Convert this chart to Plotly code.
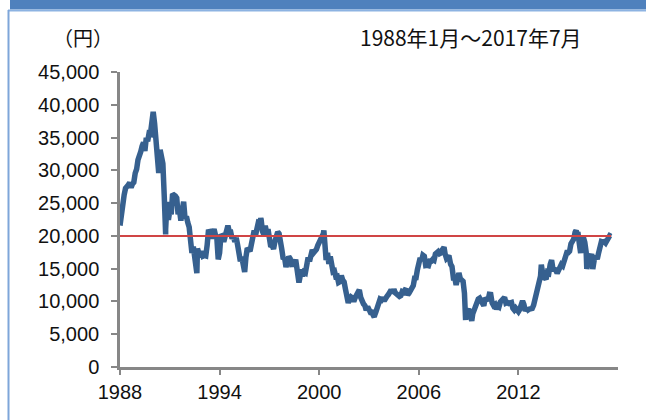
import plotly.graph_objects as go

# ---- data (Nikkei 225, month-end closes, 1988/1 - 2017/7) ----
start_value = 21575
monthly_close = [
    # 1988
    23622, 24384, 26260, 27256, 27417, 27769, 28101, 27366, 27924, 28183, 29579, 30159,
    # 1989
    31581, 31986, 32839, 33714, 34267, 32949, 34954, 34431, 35637, 35549, 37269, 38916,
    # 1990
    37189, 34592, 29980, 29585, 33131, 31940, 31036, 25978, 20984, 25194, 22455, 23849,
    # 1991
    23293, 26409, 26292, 26111, 25790, 23291, 23975, 22335, 23916, 25222, 22688, 22984,
    # 1992
    22023, 21339, 19346, 17391, 18348, 15952, 15910, 18061, 17399, 16768, 17684, 16925,
    # 1993
    17024, 16953, 18591, 20920, 20552, 19591, 20381, 21027, 20106, 19704, 16408, 17417,
    # 1994
    20229, 19997, 19112, 19725, 20974, 21552, 20642, 20629, 19564, 19990, 19076, 19723,
    # 1995
    18650, 17053, 16140, 16807, 15437, 14517, 16678, 18117, 17913, 17655, 18744, 19868,
    # 1996
    20813, 20125, 21407, 22041, 21956, 22531, 20693, 20167, 21556, 20467, 21020, 19361,
    # 1997
    18330, 18557, 18003, 19151, 20069, 20605, 20331, 18229, 17888, 16459, 16636, 15259,
    # 1998
    16628, 16832, 16527, 15641, 15671, 15831, 16379, 14108, 13406, 13565, 14884, 13842,
    # 1999
    14499, 14368, 15837, 16702, 16112, 17530, 17862, 17437, 17605, 17942, 18558, 18934,
    # 2000
    19540, 19960, 20337, 17974, 16332, 17411, 15727, 16861, 15747, 14539, 14649, 13786,
    # 2001
    13844, 12884, 12999, 13934, 13262, 12969, 11861, 10713, 9775, 10366, 10697, 10543,
    # 2002
    9998, 10588, 11025, 11493, 11764, 10622, 9878, 9619, 9383, 8640, 9216, 8579,
    # 2003
    8340, 8363, 7973, 7831, 8425, 9083, 9563, 10344, 10219, 10560, 10101, 10677,
    # 2004
    10784, 11042, 11715, 11762, 11237, 11859, 11326, 11082, 10824, 10771, 10899, 11489,
    # 2005
    11388, 11741, 11669, 11009, 11277, 11584, 11900, 12414, 13574, 13607, 14872, 16111,
    # 2006
    16650, 16205, 17060, 16906, 15467, 15505, 15457, 16141, 16128, 16399, 16274, 17226,
    # 2007
    17383, 17604, 17288, 17400, 17876, 18138, 17249, 16569, 16786, 16737, 15681, 15308,
    # 2008
    13592, 13603, 12526, 13850, 14339, 13481, 13377, 13073, 11260, 8577, 8512, 8860,
    # 2009
    7994, 7568, 8110, 8828, 9523, 9958, 10357, 10493, 10133, 10035, 9346, 10546,
    # 2010
    10198, 10126, 11090, 11057, 9769, 9383, 9537, 8824, 9369, 9202, 9937, 10229,
    # 2011
    10237, 10624, 9755, 9850, 9693, 9816, 9833, 8955, 8700, 8988, 8434, 8455,
    # 2012
    8803, 9723, 10083, 9521, 8543, 9007, 8695, 8840, 8870, 8928, 9446, 10395,
    # 2013
    11139, 11559, 12398, 13860, 13775, 13677, 13668, 13389, 14456, 14328, 15662, 16291,
    # 2014
    14915, 14841, 14828, 14304, 14632, 15162, 15621, 15425, 16174, 16414, 17460, 17451,
    # 2015
    17674, 18798, 19207, 19520, 20563, 20236, 20585, 18890, 17388, 19083, 19747, 19034,
    # 2016
    17518, 16027, 16759, 16666, 17235, 15576, 16569, 16887, 16450, 17425, 18308, 19114,
    # 2017
    19041, 19119, 18909, 19197, 19651, 20033, 19925,
]
# intramonth extremes (decimal year, value)
extreme_dates = [1990.75, 1992.63, 1995.51, 1996.48, 1998.78, 2000.28, 2003.32,
                 2007.52, 2008.82, 2009.19, 2013.38, 2015.48, 2016.12, 2016.48]
extreme_values = [20222, 14309, 14485, 22666, 12880, 20833, 7607,
                  18261, 7162, 7055, 15627, 20868, 14953, 14952]

reference_level = 20000
start_year = 1988
end_year = 2018
tick_years = [1988, 1994, 2000, 2006, 2012]
y_ticks = list(range(0, 45001, 5000))

# ---- build series ----
pts = [(start_year, start_value)]
pts += [(start_year + (i + 1) / 12.0, v) for i, v in enumerate(monthly_close)]
pts += list(zip(extreme_dates, extreme_values))
pts.sort()
xs = [p[0] for p in pts]
ys = [p[1] for p in pts]
last_x = xs[-1]

fig = go.Figure()
fig.add_trace(go.Scatter(x=xs, y=ys, mode="lines",
                         line=dict(color="#36608f", width=5.5, shape="linear"),
                         hoverinfo="skip", showlegend=False))
fig.add_trace(go.Scatter(x=[start_year, last_x], y=[reference_level, reference_level],
                         mode="lines", line=dict(color="#d04545", width=2),
                         hoverinfo="skip", showlegend=False))

# pixel helpers for decorations
L, R, T, B = 120, 28, 72, 53
W, H = 646, 420
pw, ph = W - L - R, H - T - B
def px(x):
    return (x - L) / pw
def py(y):
    return (H - B - y) / ph

shapes = [
    dict(type="rect", xref="paper", yref="paper", x0=px(10), x1=px(646), y0=py(0), y1=py(9.5),
         fillcolor="#4f81bd", line=dict(width=0), layer="above"),
    dict(type="line", xref="paper", yref="paper", x0=px(8), x1=px(646), y0=py(10.5), y1=py(10.5),
         line=dict(color="#8db3e2", width=2)),
    dict(type="line", xref="paper", yref="paper", x0=px(8.5), x1=px(8.5), y0=py(10), y1=py(420),
         line=dict(color="#7ea6d9", width=2)),
]

font_lat = "Liberation Sans, Arial, sans-serif"
font_cjk = "Noto Sans CJK JP, sans-serif"

fig.update_layout(
    width=W, height=H,
    margin=dict(l=L, r=R, t=T, b=B, pad=0),
    paper_bgcolor="white", plot_bgcolor="white",
    shapes=shapes,
    annotations=[
        dict(text="（円）", xref="paper", yref="paper", x=px(83), y=py(37),
             showarrow=False, font=dict(family=font_cjk, size=20, color="#111111"),
             xanchor="center", yanchor="middle"),
        dict(text="1988年1月～2017年7月", xref="paper", yref="paper", x=px(471), y=py(37),
             showarrow=False, font=dict(family=font_cjk, size=21, color="#111111"),
             xanchor="center", yanchor="middle"),
    ],
    xaxis=dict(range=[start_year, end_year], tickvals=tick_years,
               ticktext=[str(t) for t in tick_years],
               showgrid=False, zeroline=False, showline=True, linecolor="#878787", linewidth=2.5,
               ticks="outside", ticklen=5, tickwidth=1.5, tickcolor="#878787",
               tickfont=dict(family=font_lat, size=20, color="#111111")),
    yaxis=dict(range=[0, 45000], tickvals=y_ticks,
               ticktext=[f"{v:,}" for v in y_ticks],
               showgrid=False, zeroline=False, showline=True, linecolor="#878787", linewidth=2.5,
               ticks="outside", ticklen=6, tickwidth=1.5, tickcolor="#878787",
               ticklabelstandoff=8,
               tickfont=dict(family=font_lat, size=20, color="#111111")),
)

fig.write_html("out.html")
